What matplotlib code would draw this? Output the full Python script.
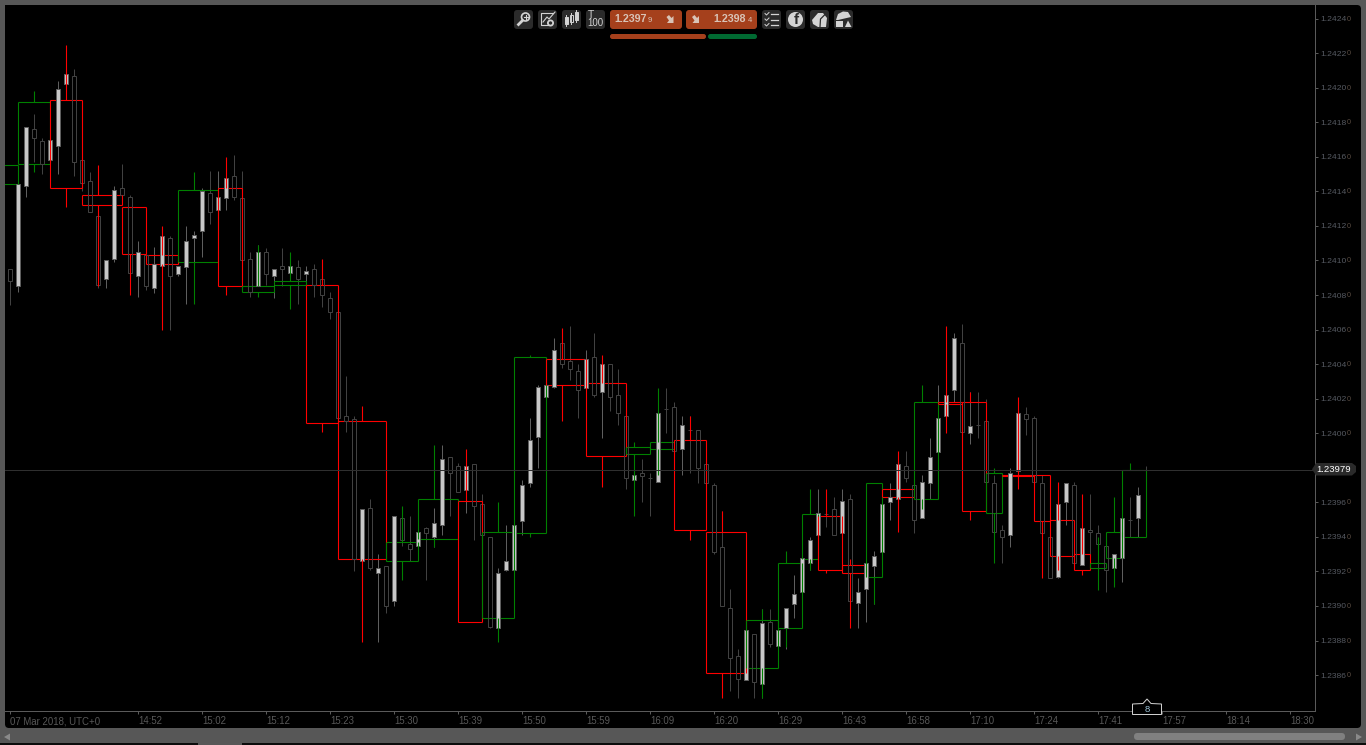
import matplotlib
matplotlib.use("Agg")
import numpy as np
from matplotlib import pyplot as plt
from matplotlib.patches import FancyBboxPatch, Circle, Polygon, Rectangle

# small candles, prices in 1e-5 units: open, high, low, close
candles = [
    (124095,124095,124074,124088),(124085,124144,124082,124144),(124143,124177,124137,124177),(124176,124185,124157,124171),
    (124169,124171,124150,124156),(124158,124170,124158,124170),(124166,124204,124150,124199),(124202,124208,124202,124208),
    (124207,124211,124149,124157),(124158,124158,124140,124145),(124146,124151,124128,124128),(124126,124126,124084,124086),
    (124089,124100,124084,124100),(124101,124143,124099,124141),(124142,124156,124138,124138),(124137,124138,124093,124093),
    (124091,124111,124079,124105),(124103,124104,124083,124085),(124084,124108,124081,124098),(124097,124114,124097,124114),
    (124113,124114,124060,124091),(124092,124097,124091,124097),(124096,124120,124075,124111),(124113,124117,124094,124115),
    (124117,124142,124102,124140),(124139,124152,124121,124128),(124129,124152,124129,124137),(124136,124148,124129,124148),
    (124149,124161,124135,124137),(124136,124152,124100,124100),(124101,124105,124079,124082),(124085,124109,124085,124105),
    (124105,124107,124086,124092),(124091,124095,124078,124095),(124097,124107,124085,124095),(124093,124097,124093,124097),
    (124096,124100,124075,124089),(124092,124097,124087,124094),(124095,124098,124079,124086),(124089,124089,124073,124080),
    (124078,124082,124066,124070),(124070,124073,124009,124009),(124010,124033,124001,124007),(124008,124010,123920,123927),
    (123926,123956,123926,123956),(123957,123962,123921,123922),(123919,123930,123879,123922),(123923,123923,123896,123900),
    (123903,123952,123900,123952),(123951,123951,123935,123938),(123936,123952,123926,123933),(123935,123943,123935,123943),
    (123945,123946,123915,123942),(123940,123957,123934,123948),(123947,123993,123941,123985),(123986,123986,123952,123977),
    (123981,123983,123966,123966),(123967,123981,123954,123981),(123982,123982,123938,123958),(123959,123965,123941,123941),
    (123940,123940,123887,123888),(123887,123922,123887,123919),(123921,123947,123920,123926),(123921,123947,123921,123947),
    (123949,123973,123941,123970),(123971,124009,123969,123996),(123998,124028,123980,124027),(124021,124028,124021,124028),
    (124027,124055,124026,124048),(124052,124054,124038,124040),(124042,124062,124031,124037),(124036,124040,124009,124025),
    (124026,124048,124026,124043),(124044,124058,124021,124022),(124024,124040,123997,124040),(124040,124040,124013,124021),
    (124022,124037,124005,124012),(124010,124010,123968,123974),(123973,123984,123973,123976),(123977,123985,123960,123975),
    (123974,123977,123952,123974),(123972,124012,123972,124012),(124014,124026,124000,124014),(124015,124018,123990,123990),
    (123991,124010,123976,124005),(124002,124010,123977,124002),(124002,124002,123971,123980),(123982,123982,123971,123971),
    (123970,123971,123930,123931),(123934,123955,123900,123900),(123899,123910,123851,123870),(123871,123875,123847,123858),
    (123857,123886,123857,123886),(123884,123884,123847,123856),(123855,123898,123847,123890),(123891,123898,123876,123878),
    (123877,123892,123877,123886),(123887,123899,123875,123899),(123901,123918,123893,123907),(123908,123928,123908,123928),
    (123925,123940,123921,123938),(123941,123968,123941,123954),(123953,123967,123946,123953),(123956,123963,123941,123941),
    (123942,123968,123942,123961),(123962,123965,123903,123903),(123902,123916,123887,123908),(123910,123925,123891,123925),
    (123923,123932,123901,123929),(123931,123959,123931,123959),(123960,123971,123950,123963),(123962,123982,123962,123982),
    (123981,123990,123972,123974),(123970,123970,123942,123950),(123951,123976,123951,123972),(123971,123997,123962,123986),
    (123989,124028,123989,124009),(124010,124022,124010,124022),(124025,124058,124018,124055),(124052,124063,124001,124001),
    (124000,124024,123994,124004),(124005,124024,123997,124005),(124007,124020,123972,123972),(123971,123976,123943,123943),
    (123944,123947,123925,123940),(123941,123980,123934,123977),(123978,124012,123978,124012),(124011,124015,123999,124008),
    (124009,124010,123972,123972),(123971,123976,123942,123942),(123940,123940,123916,123916),(123917,123959,123916,123959),
    (123960,123971,123947,123971),(123970,123972,123925,123925),(123924,123945,123924,123945),(123944,123965,123922,123943),
    (123942,123947,123922,123936),(123935,123935,123908,123921),(123922,123930,123912,123930),(123928,123951,123914,123951),
    (123950,123963,123940,123950),(123951,123969,123940,123964),(123979,123981,123978,123979),
]

# higher timeframe boxes: left, right, wick bar, open, high, low, close
boxes = [
    (-2,1,0,124144,124155,124144,124155),(1,5,3,124156,124198,124151,124192),(5,9,7,124193,124225,124131,124142),
    (9,14,11,124138,124155,124085,124132),(14,17,15,124131,124131,124080,124104),(17,21,19,124103,124120,124060,124098),
    (21,26,23,124099,124151,124075,124141),(26,29,27,124142,124160,124080,124085),(29,33,31,124082,124109,124079,124085),
    (33,37,35,124086,124105,124072,124088),(37,41,39,124086,124101,124001,124006),(41,47,44,124007,124016,123879,123927),
    (47,51,49,123926,123958,123915,123937),(51,56,53,123939,123993,123934,123962),(56,59,57,123961,123991,123891,123891),
    (59,63,61,123893,123960,123879,123943),(63,67,65,123942,124045,123940,124044),(67,72,69,124043,124061,124007,124028),
    (72,77,74,124029,124045,123969,123987),(77,80,78,123988,123995,123952,123992),(80,83,81,123991,124026,123976,123995),
    (83,87,85,123996,124010,123938,123944),(87,92,89,123943,123955,123847,123861),(92,96,94,123864,123898,123847,123892),
    (96,99,97,123887,123932,123876,123925),(99,101,100,123927,123968,123921,123953),(101,104,102,123952,123968,123919,123921),
    (104,107,105,123924,123927,123887,123919),(107,109,108,123917,123971,123901,123971),(109,113,111,123968,123990,123943,123963),
    (113,116,114,123962,124028,123956,124018),(116,119,117,124018,124062,124000,124017),(119,122,120,124018,124024,123950,123955),
    (122,124,123,123954,123980,123925,123977),(124,128,126,123976,124021,123968,123975),(128,130,129,123976,123976,123916,123949),
    (130,133,131,123950,123972,123921,123929),(133,135,134,123930,123965,123918,123921),(135,137,136,123922,123940,123909,123925),
    (137,139,138,123928,123963,123911,123943),(139,142,140,123940,123983,123940,123979),
]

y_ticks = [1.2386 + 0.0002 * n for n in range(20)]
x_tick_bars = [0, 16, 24, 32, 40, 48, 56, 64, 72, 80, 88, 96, 104, 112, 120, 128, 136, 144, 152, 160]
x_tick_labels = ["07 Mar 2018, UTC+0", "14:52", "15:02", "15:12", "15:23", "15:30", "15:39", "15:50", "15:59", "16:09",
                 "16:20", "16:29", "16:43", "16:58", "17:10", "17:24", "17:41", "17:57", "18:14", "18:30"]
last_price = 1.23979

PX = 0.72  # one pixel in points at dpi 100
W, H = 1366, 745
plt.rcParams["font.family"] = ["Liberation Sans", "DejaVu Sans"]
fig = plt.figure(figsize=(13.66, 7.45), dpi=100, facecolor="#575757")

# black panel under everything
bg = fig.add_axes([0, 0, 1, 1], zorder=0)
bg.set_xlim(0, W)
bg.set_ylim(H, 0)
bg.axis("off")
bg.add_patch(FancyBboxPatch((5, 5), 1356, 723, boxstyle="round,pad=0,rounding_size=4", fc="black", ec="none"))
bg.add_patch(Rectangle((0, 743), W, 2, fc="#0c0c0c", ec="none"))
bg.add_patch(Rectangle((198, 743), 44, 2, fc="#575757", ec="none"))

ax = fig.add_axes([5 / W, (H - 711) / H, 1310 / W, 706 / H], zorder=1, facecolor="black")
ax.set_xlim((5 - 10.3) / 8, (1315 - 10.3) / 8)
ax.set_ylim(1.238392, 1.242479)

c = np.array(candles) / 1e5
b = np.array(boxes, dtype=float)
idx = np.arange(len(c))
o, h, l, cl = c[:, 0], c[:, 1], c[:, 2], c[:, 3]
up = cl > o
top = np.maximum(o, cl)
bot = np.minimum(o, cl)

# price line lies over the marks
ax.axhline(last_price, color="#2f2f2f", lw=PX, zorder=6)

# candle wicks and bodies
wick_col = np.where(up, "#5e5e5e", "#414141")
ax.vlines(idx, top, h, colors=wick_col, lw=PX, zorder=2)
ax.vlines(idx, l, bot, colors=wick_col, lw=PX, zorder=2)
ax.bar(idx[up], (top - bot)[up], bottom=bot[up], width=0.5, color="#c8c8c8", edgecolor="#5e5e5e", lw=PX, zorder=3)
ax.bar(idx[~up], (top - bot)[~up], bottom=bot[~up], width=0.5, color="none", edgecolor="#414141", lw=PX, zorder=3)

# higher timeframe candles: horizontals go under the filled bodies, verticals over them
for left, right, wick, bo, bh, bl, bc in b:
    col = "#008000" if bc > bo else "#ff0000"
    hi, lo = max(bo, bc) / 1e5, min(bo, bc) / 1e5
    ax.hlines([lo, hi], left, right, colors=col, lw=PX * 1.1, zorder=2.5)
    ax.vlines([left, right], lo, hi, colors=col, lw=PX * 1.1, zorder=5)
    ax.vlines(wick, hi, bh / 1e5, colors=col, lw=PX * 1.1, zorder=5)
    ax.vlines(wick, bl / 1e5, lo, colors=col, lw=PX * 1.1, zorder=5)

for s in ["top", "left"]:
    ax.spines[s].set_visible(False)
for s in ["right", "bottom"]:
    ax.spines[s].set_color("#5a5a5a")
    ax.spines[s].set_linewidth(PX)

# the 1.2398 label sits behind the price pill in the reference, so it stays blank
hidden = abs(np.array(y_ticks) - last_price) < 0.0001
ax.yaxis.tick_right()
ax.set_yticks(y_ticks)
ax.set_yticklabels(["" if hide else "%.4f" % v for v, hide in zip(y_ticks, hidden)])
ax.set_xticks(x_tick_bars)
ax.set_xticklabels(x_tick_labels, ha="left")
ax.tick_params(axis="y", length=2, width=PX, color="#5a5a5a", labelcolor="#565a62", labelsize=6.1, pad=1.8)
ax.tick_params(axis="x", length=2, width=PX, color="#5a5a5a", labelcolor="#585858", labelsize=6.9, pad=1.8)
for v, hide in zip(y_ticks, hidden):
    if not hide:
        ax.annotate("0", xy=(1, v), xycoords=("axes fraction", "data"), xytext=(31.5, -0.5), textcoords="offset pixels",
                    color="#5a4c42", fontsize=5.2, va="center", ha="left", annotation_clip=False)

# everything else: toolbar, badges, scrollbar, in pixel coordinates
ui = fig.add_axes([0, 0, 1, 1], zorder=2)
ui.set_xlim(0, W)
ui.set_ylim(H, 0)
ui.axis("off")
ui.patch.set_alpha(0)


def btn(x, y, w, hh, fc, r=3):
    ui.add_patch(FancyBboxPatch((x, y), w, hh, boxstyle="round,pad=0,rounding_size=%g" % r, fc=fc, ec="none"))


def arrow(x, col):
    # fat little arrow pointing down and right
    pts = [(x, 17), (x + 2.5, 15), (x + 5, 18), (x + 7, 16), (x + 7, 23), (x + 0.5, 23), (x + 2.5, 20.5)]
    ui.add_patch(Polygon(pts, fc=col, ec="none"))


ICON = "#d4d4d4"
for x in [514, 538, 562, 586, 762, 786, 810, 834]:
    btn(x, 10, 19, 19, "#2b2b2b")
btn(610, 10, 72, 19, "#a5401c")
btn(686, 10, 71, 19, "#a5401c")
btn(610, 34, 96, 5, "#a5401c", 2.4)
btn(708, 34, 49, 5, "#006a32", 2.4)

# magnifier
ui.add_patch(Circle((525.5, 17), 4, fc="none", ec=ICON, lw=1.2))
ui.plot([522.5, 518.5], [20.5, 24.5], color=ICON, lw=2)
ui.plot([523.5, 527.5], [17, 17], color=ICON, lw=0.8)
ui.plot([525.5, 525.5], [15, 19], color=ICON, lw=0.8)
# chart settings
ui.plot([553, 541, 541, 548], [13, 13, 25, 25], color=ICON, lw=0.8)
ui.plot([543, 547, 549, 555], [22, 17, 19, 12], color=ICON, lw=0.8)
ui.add_patch(Circle((550.5, 23), 2.6, fc="#2b2b2b", ec=ICON, lw=1.3))
# candle glyph
for cx, t, bt in [(566, 17, 24), (571, 15, 22), (576, 12, 20)]:
    ui.plot([cx, cx], [t - 2, bt + 2], color=ICON, lw=0.7)
    ui.add_patch(Rectangle((cx - 1.5, t), 3, bt - t, fc=ICON if cx != 571 else "#2b2b2b", ec=ICON, lw=0.7))
ui.text(591, 14.5, "T", color=ICON, fontsize=7.5, ha="center", va="center")
ui.text(595.5, 23.3, "100", color=ICON, fontsize=7, ha="center", va="center")
# list
for yy in [14, 19.5, 25]:
    ui.plot([765, 766.5, 769], [yy - 0.5, yy + 1, yy - 1.5], color=ICON, lw=0.7)
    ui.plot([771, 778], [yy, yy], color=ICON, lw=0.9)
# round icons
ui.add_patch(Circle((795.5, 19.5), 7.5, fc=ICON, ec="none"))
ui.text(796.5, 20.5, "f", color="#2b2b2b", fontsize=11, fontweight="bold", ha="center", va="center")
ui.add_patch(Polygon([(812, 20), (818, 13), (823, 13), (827, 18), (826, 27), (818, 27), (813, 24)], fc=ICON, ec="none"))
ui.plot([820, 820.5, 826], [27, 19, 13.5], color="#2b2b2b", lw=0.9)
ui.add_patch(Polygon([(836, 20), (838, 14), (843, 11.5), (848, 12), (851, 17), (838, 20)], fc=ICON, ec="none"))
ui.add_patch(Rectangle((836, 21), 7, 6, fc=ICON, ec="none"))
ui.add_patch(Polygon([(845, 27), (848, 20.5), (851.5, 27)], fc=ICON, ec="none"))

# price buttons
BTXT = "#d9c3b6"
ui.text(614.5, 19.5, "1.2397", color=BTXT, fontsize=7.7, fontweight="bold", ha="left", va="center")
ui.text(648, 20.3, "9", color=BTXT, fontsize=5.6, ha="left", va="center")
ui.text(713.5, 19.5, "1.2398", color=BTXT, fontsize=7.7, fontweight="bold", ha="left", va="center")
ui.text(748, 20.3, "4", color=BTXT, fontsize=5.6, ha="left", va="center")
arrow(666.5, BTXT)
arrow(692, BTXT)

# current price pill
ui.add_patch(Polygon([(1312, 469.3), (1316, 463), (1352, 463), (1356, 466), (1356, 472), (1352, 475.5), (1316, 475.5)],
                     fc="#2a2a2a", ec="none"))
ui.text(1334, 469.5, "%.5f" % last_price, color="white", fontsize=6.8, ha="center", va="center")

# bars count badge
ui.add_patch(Polygon([(1132.5, 704), (1143, 703.5), (1147, 699), (1151, 703.5), (1161.5, 704), (1161.5, 714.5), (1132.5, 714.5)],
                     fc="black", ec="#cfcfcf", lw=PX))
ui.text(1147, 709.5, "8", color="#9cc3d8", fontsize=6.8, ha="center", va="center")

# scrollbar
btn(1134, 733, 211, 7, "#808080", 3.4)
ui.add_patch(Polygon([(4, 737), (10, 733.5), (10, 740.5)], fc="#8a8a8a", ec="none"))
ui.add_patch(Polygon([(1362, 737), (1356, 733.5), (1356, 740.5)], fc="#8a8a8a", ec="none"))

fig.savefig("out.png", dpi=100, facecolor=fig.get_facecolor())
